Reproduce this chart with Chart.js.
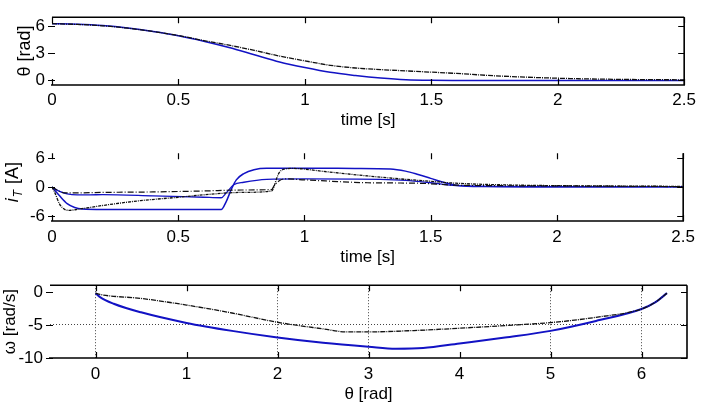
<!DOCTYPE html>
<html>
<head>
<meta charset="utf-8">
<script src="https://cdn.jsdelivr.net/npm/chart.js@4.4.1/dist/chart.umd.min.js"></script>
<style>
  html, body { margin: 0; padding: 0; background: #fff; }
  #wrap { position: relative; width: 701px; height: 408px; overflow: hidden; }
  canvas { position: absolute; left: 0; }
</style>
</head>
<body>
<div id="wrap">
  <canvas id="c1" width="701" height="136" style="top:0px"></canvas>
  <canvas id="c2" width="701" height="132" style="top:136px"></canvas>
  <canvas id="c3" width="701" height="140" style="top:268px"></canvas>
</div>
<script>
// ticks
const timeTicks = [0, 0.5, 1, 1.5, 2, 2.5];
const angleTicks = [0, 3, 6];
const currentTicks = [-6, 0, 6];
const thetaTicks = [0, 1, 2, 3, 4, 5, 6];
const omegaTicks = [-10, -5, 0];
const thetaGridAt = [0, 2, 3, 5, 6];
const omegaGridAt = [-5];

// top: theta(t)
const tAngle = [0, 0.1, 0.2, 0.3, 0.4, 0.5, 0.6, 0.7, 0.8, 0.9, 1.0, 1.1, 1.2, 1.3, 1.4, 1.5, 1.6, 1.75, 2.0, 2.25, 2.5];
const angleBlue = [6.28, 6.22, 6.07, 5.8, 5.42, 4.95, 4.35, 3.65, 2.85, 2.05, 1.43, 0.9, 0.55, 0.27, 0.08, 0.02, 0.01, 0, 0, 0, 0];
const angleBlack = [6.28, 6.2, 6.05, 5.78, 5.42, 4.97, 4.42, 3.9, 3.33, 2.7, 2.17, 1.68, 1.38, 1.2, 1.06, 0.92, 0.78, 0.52, 0.25, 0.12, 0.07];

// middle: currents i_T(t)
const tBlue1 = [0, 0.03, 0.06, 0.09, 0.12, 0.2, 0.4, 0.6, 0.67, 0.69, 0.71, 0.73, 0.76, 0.8, 0.85, 1.0, 1.2, 1.34, 1.4, 1.45, 1.5, 1.55, 1.6, 1.7, 2.0, 2.5];
const iBlue1 = [0, -1.8, -3.4, -4.2, -4.5, -4.6, -4.6, -4.65, -4.65, -3.0, -0.5, 1.5, 2.8, 3.6, 3.9, 3.9, 3.85, 3.75, 3.3, 2.6, 1.8, 1.0, 0.4, 0.1, 0.05, 0.05];
const tBlue2 = [0, 0.03, 0.06, 0.1, 0.15, 0.2, 0.4, 0.6, 0.67, 0.69, 0.72, 0.76, 0.85, 1.0, 1.3, 1.4, 1.5, 1.6, 2.0, 2.5];
const iBlue2 = [0, -0.9, -1.4, -1.6, -1.6, -1.55, -1.8, -2.1, -2.2, -1.2, 0.5, 1.0, 1.6, 1.7, 1.6, 1.4, 0.9, 0.3, 0.05, 0.05];
const tBlack1 = [0, 0.01, 0.03, 0.05, 0.07, 0.1, 0.2, 0.35, 0.5, 0.6, 0.75, 0.87, 0.88, 0.89, 0.9, 0.92, 0.95, 1.1, 1.25, 1.4, 1.5, 1.6, 1.8, 2.0, 2.5];
const iBlack1 = [0, -1.0, -3.5, -4.6, -4.8, -4.6, -3.8, -2.8, -2.1, -1.6, -1.1, -0.8, 0.2, 1.8, 3.0, 3.7, 3.85, 3.1, 2.3, 1.6, 1.2, 0.8, 0.45, 0.3, 0.15];
const tBlack2 = [0, 0.02, 0.05, 0.1, 0.2, 0.4, 0.6, 0.75, 0.87, 0.88, 0.9, 0.92, 1.0, 1.25, 1.45, 1.6, 2.0, 2.5];
const iBlack2 = [0, -0.6, -1.2, -1.2, -1.1, -1.0, -0.8, -0.6, -0.5, 0.3, 1.3, 1.7, 1.5, 0.9, 0.8, 0.4, 0.25, 0.1];

// bottom: omega(theta)
const thBlue = [0, 0.05, 0.2, 0.5, 1.0, 1.5, 2.0, 2.5, 3.0, 3.3, 3.6, 4.0, 4.5, 5.0, 5.5, 6.0, 6.15, 6.28];
const omBlue = [-0.2, -0.8, -1.8, -3.1, -4.7, -5.9, -6.9, -7.7, -8.3, -8.6, -8.5, -7.8, -6.9, -5.9, -4.4, -2.6, -1.6, -0.2];
const thBlack = [0, 0.05, 0.5, 1.0, 1.5, 2.0, 2.5, 2.75, 3.0, 3.5, 4.0, 4.5, 5.0, 5.5, 6.0, 6.15, 6.28];
const omBlack = [-0.2, -0.4, -1.0, -2.0, -3.2, -4.6, -5.6, -6.05, -6.05, -5.85, -5.5, -5.1, -4.65, -3.85, -2.6, -1.6, -0.2];

const BLUE = '#1212c4';
const BLACK = '#111';
const FONT = "'Liberation Sans', Arial, sans-serif";

const pts = (xs, ys) => xs.map((x, i) => ({ x, y: ys[i] }));

const line = (label, data, color, extra = {}) => ({
  label, data, borderColor: color, borderWidth: 1.5, pointRadius: 0,
  cubicInterpolationMode: 'monotone', fill: false, ...extra,
});

// box + inward tick marks, MATLAB style
const frame = {
  id: 'frame',
  afterDraw(chart, args, o) {
    const { ctx, chartArea: a, scales: { x, y } } = chart;
    ctx.save();
    ctx.strokeStyle = '#000';
    ctx.lineWidth = 1.6;
    ctx.beginPath();
    if (o.top) { ctx.moveTo(a.left, a.top); ctx.lineTo(a.right, a.top); }
    ctx.moveTo(a.left - 1, a.bottom); ctx.lineTo(a.right, a.bottom);
    ctx.moveTo(a.right, a.top); ctx.lineTo(a.right, a.bottom + 0.8);
    ctx.stroke();
    ctx.lineWidth = 1.2;
    ctx.beginPath();
    for (const t of x.ticks) {
      const px = Math.round(x.getPixelForValue(t.value)) + 0.5;
      ctx.moveTo(px, a.bottom); ctx.lineTo(px, a.bottom - 6);
      ctx.moveTo(px, a.top); ctx.lineTo(px, a.top + 6);
    }
    for (const t of y.ticks) {
      const py = Math.round(y.getPixelForValue(t.value)) + 0.5;
      ctx.moveTo(a.left - 4, py); ctx.lineTo(a.left + 3, py);
      ctx.moveTo(a.right, py); ctx.lineTo(a.right - 6, py);
    }
    ctx.stroke();
    ctx.restore();
  }
};

// italic i with subscript T for the current axis
const iTLabel = {
  id: 'iTLabel',
  afterDraw(chart) {
    const { ctx, chartArea: a } = chart;
    const big = `italic 18px ${FONT}`, sub = `italic 12px ${FONT}`, norm = `18px ${FONT}`;
    ctx.save();
    ctx.fillStyle = '#000';
    ctx.textBaseline = 'alphabetic';
    ctx.font = big; const w1 = ctx.measureText('i').width;
    ctx.font = sub; const w2 = ctx.measureText('T').width;
    ctx.font = norm; const w3 = ctx.measureText(' [A]').width;
    const total = w1 + w2 + 2 + w3;
    ctx.translate(18, (a.top + a.bottom) / 2 - 5);
    ctx.rotate(-Math.PI / 2);
    let cx = -total / 2;
    ctx.font = big; ctx.fillText('i', cx, 0); cx += w1 + 1;
    ctx.font = sub; ctx.fillText('T', cx, 4); cx += w2 + 1;
    ctx.font = norm; ctx.fillText(' [A]', cx, 0);
    ctx.restore();
  }
};

function makeChart(id, { datasets, xMin, xMax, xTicks, yMin, yMax, yTicks, xTitle, yTitle,
                         padTop, yWidth, xHeight, tickPad, xTitlePad, yTitlePad, yTitleSize = 18,
                         top = true, xGrid = null, yGrid = null, extraPlugins = [] }) {
  const gridOpt = (list) => list
    ? { display: true, drawTicks: false, lineWidth: 1,
        color: c => (c.tick && list.includes(c.tick.value)) ? '#444' : 'rgba(0,0,0,0)' }
    : { display: false, drawTicks: false };
  return new Chart(document.getElementById(id), {
    type: 'line',
    data: { datasets },
    options: {
      responsive: false,
      animation: false,
      layout: { padding: { top: padTop, right: 14, left: 0, bottom: 0 } },
      plugins: { legend: { display: false }, tooltip: { enabled: false }, frame: { top } },
      scales: {
        x: {
          type: 'linear', min: xMin, max: xMax,
          afterBuildTicks: s => { s.ticks = xTicks.map(v => ({ value: v })); },
          afterFit: s => { s.height = xHeight; },
          grid: gridOpt(xGrid),
          border: { display: false, dash: [1, 2] },
          ticks: { color: '#000', padding: tickPad, maxRotation: 0, autoSkip: false,
                   callback: v => String(v), font: { size: 17, family: FONT } },
          title: { display: true, text: xTitle, color: '#000',
                   padding: { top: 0, bottom: xTitlePad }, font: { size: 17, family: FONT } },
        },
        y: {
          min: yMin, max: yMax,
          afterBuildTicks: s => { s.ticks = yTicks.map(v => ({ value: v })); },
          afterFit: s => { s.width = yWidth; },
          grid: gridOpt(yGrid),
          border: { display: false, dash: [1, 2] },
          ticks: { color: '#000', padding: 7, autoSkip: false,
                   callback: v => String(v), font: { size: 17, family: FONT } },
          title: { display: !!yTitle, text: yTitle, color: '#000',
                   padding: { top: yTitlePad, bottom: 0 }, font: { size: yTitleSize, family: FONT } },
        },
      },
    },
    plugins: [frame, ...extraPlugins],
  });
}

makeChart('c1', {
  datasets: [
    line('θ ref', pts(tAngle, angleBlack), BLACK, { borderWidth: 1.3, borderDash: [5, 1, 1, 1] }),
    line('θ', pts(tAngle, angleBlue), BLUE),
  ],
  xMin: 0, xMax: 2.5, xTicks: timeTicks, yMin: -0.5, yMax: 7, yTicks: angleTicks,
  xTitle: 'time [s]', yTitle: 'θ [rad]',
  padTop: 10, yWidth: 52, xHeight: 51, tickPad: 5, xTitlePad: 5, yTitlePad: 14,
});

makeChart('c2', {
  datasets: [
    line('i1 ref', pts(tBlack1, iBlack1), BLACK, { borderWidth: 1.3, borderDash: [3, 1, 1, 1] }),
    line('i2 ref', pts(tBlack2, iBlack2), BLACK, { borderWidth: 1.2, borderDash: [6, 2, 1, 2] }),
    line('i1', pts(tBlue1, iBlue1), BLUE),
    line('i2', pts(tBlue2, iBlue2), BLUE, { borderWidth: 1.3 }),
  ],
  xMin: 0, xMax: 2.5, xTicks: timeTicks, yMin: -7, yMax: 7, yTicks: currentTicks,
  xTitle: 'time [s]', yTitle: '',
  padTop: 11, yWidth: 52, xHeight: 47, tickPad: 6, xTitlePad: 0, yTitlePad: 0,
  top: false, extraPlugins: [iTLabel],
});

makeChart('c3', {
  datasets: [
    line('ω ref', pts(thBlack, omBlack), BLACK, { borderWidth: 1.3, borderDash: [5, 1, 1, 1] }),
    line('ω', pts(thBlue, omBlue), BLUE, { borderWidth: 2 }),
  ],
  xMin: -0.5, xMax: 6.5, xTicks: thetaTicks, yMin: -10, yMax: 1, yTicks: omegaTicks,
  xTitle: 'θ [rad]', yTitle: 'ω [rad/s]',
  padTop: 15, yWidth: 50, xHeight: 50, tickPad: 6, xTitlePad: 3, yTitlePad: 0, yTitleSize: 17,
  xGrid: thetaGridAt, yGrid: omegaGridAt,
});
</script>
</body>
</html>
